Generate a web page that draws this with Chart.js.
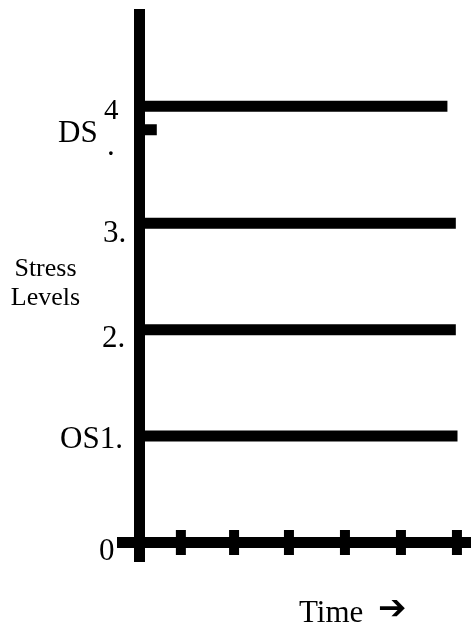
<!DOCTYPE html>
<html>
<head>
<meta charset="utf-8">
<script src="https://cdn.jsdelivr.net/npm/chart.js@4"></script>
<style>
  html, body { margin: 0; padding: 0; background: #fff; }
  #wrap { width: 471px; height: 625px; position: relative; }
</style>
</head>
<body>
<div id="wrap"><canvas id="chart"></canvas></div>
<script>
// stress levels
const levelLabels = ['OS1.', '2.', '3.', '4']
const levelValues = [1, 2, 3, 4.1]
const levelEnds = [5.67, 5.64, 5.64, 5.49]

// the short stub next to DS
const stubValue = 3.88
const stubEnd = 0.30

// tick marks on the time axis
const timeTicks = [0.73, 1.68, 2.66, 3.66, 4.66, 5.66]

const serif = '"Liberation Serif", "Times New Roman", serif'

const levelSets = levelValues.map((v, i) => ({
    label: levelLabels[i],
    data: [{x: 0, y: v}, {x: levelEnds[i], y: v}],
    borderColor: '#000',
    borderWidth: 11,
    borderCapStyle: 'butt',
    pointRadius: 0,
    showLine: true
}))

const stubSet = {
    label: 'DS',
    data: [{x: 0, y: stubValue}, {x: stubEnd, y: stubValue}],
    borderColor: '#000',
    borderWidth: 11,
    borderCapStyle: 'butt',
    pointRadius: 0,
    showLine: true
}

const tickSet = {
    label: 'ticks',
    data: timeTicks.map(t => ({x: t, y: 0})),
    showLine: false,
    pointStyle: 'line',
    rotation: 90,
    pointRadius: 12.5,
    pointBorderWidth: 10,
    pointBorderColor: '#000',
    pointBackgroundColor: '#000'
}

// text labels drawn next to the axes
const labelPlugin = {
    id: 'labels',
    afterDraw(chart) {
        const ctx = chart.ctx
        const y = chart.scales.y
        ctx.save()
        ctx.fillStyle = '#000'
        ctx.textAlign = 'left'
        ctx.textBaseline = 'alphabetic'

        ctx.font = '31px ' + serif
        ctx.fillText('0', 99, y.getPixelForValue(0) + 17.5)
        ctx.fillText(levelLabels[0], 60, y.getPixelForValue(levelValues[0]) + 12)
        ctx.fillText(levelLabels[1], 102, y.getPixelForValue(levelValues[1]) + 17.5)
        ctx.fillText(levelLabels[2], 103, y.getPixelForValue(levelValues[2]) + 19)
        ctx.fillText('DS', 58, y.getPixelForValue(stubValue) + 12.5)
        ctx.fillText('.', 107, y.getPixelForValue(stubValue) + 25.5)
        ctx.font = '29px ' + serif
        ctx.fillText(levelLabels[3], 104, y.getPixelForValue(levelValues[3]) + 12.5)

        ctx.textAlign = 'center'
        ctx.font = '26px ' + serif
        ctx.fillText('Stress', 45.5, 276)
        ctx.fillText('Levels', 45.5, 305)

        ctx.textAlign = 'left'
        ctx.font = '31px ' + serif
        ctx.fillText('Time', 299, 622)
        ctx.font = '34px "DejaVu Sans"'
        ctx.fillText('\u2794', 378, 619)
        ctx.restore()
    }
}

new Chart(document.getElementById('chart'), {
    type: 'scatter',
    data: {
        datasets: [...levelSets, stubSet, tickSet]
    },
    options: {
        responsive: true,
        maintainAspectRatio: false,
        animation: false,
        layout: {
            autoPadding: false,
            padding: {left: 122.5, top: 14.5, right: 0, bottom: 64}
        },
        scales: {
            x: {
                type: 'linear',
                min: -0.3125,
                max: 5.911,
                position: {y: 0},
                grid: {display: false, drawTicks: false},
                ticks: {display: false},
                border: {display: true, width: 11, color: '#000'}
            },
            y: {
                type: 'linear',
                min: -0.174,
                max: 4.962,
                position: {x: 0},
                grid: {display: false, drawTicks: false},
                ticks: {display: false},
                border: {display: true, width: 11, color: '#000'}
            }
        },
        plugins: {
            legend: {display: false},
            tooltip: {enabled: false}
        }
    },
    plugins: [labelPlugin]
})
</script>
</body>
</html>
